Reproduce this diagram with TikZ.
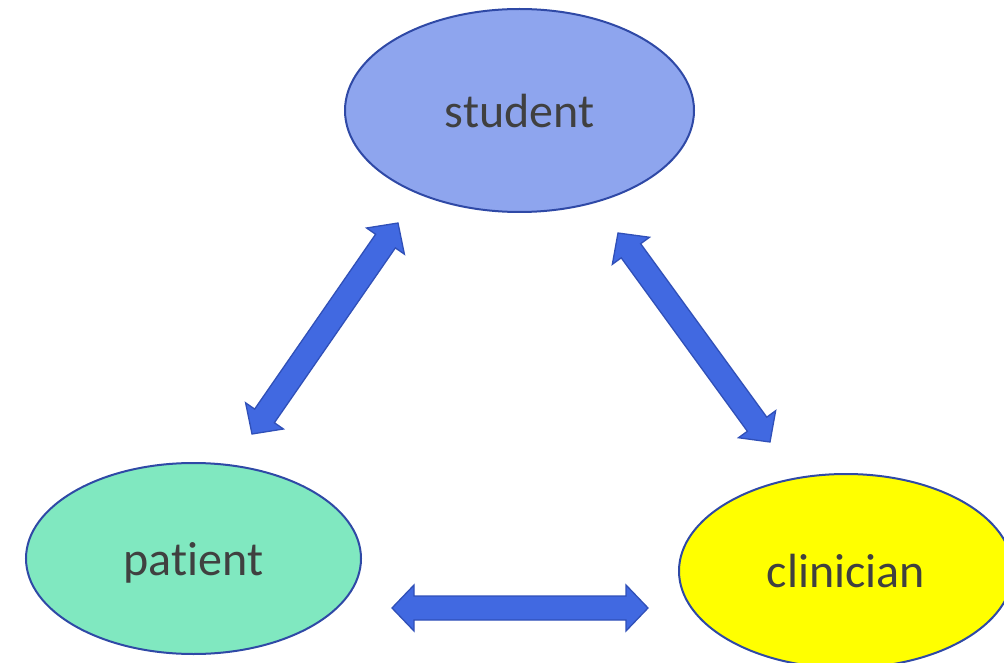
\documentclass[tikz,border=0pt]{standalone}
\usepackage{fontspec}
\setmainfont{Carlito}[Ligatures=NoCommon]
\usetikzlibrary{shapes.geometric,calc}
\definecolor{studentblue}{HTML}{8EA5EE}
\definecolor{patientgreen}{HTML}{80E8C0}
\definecolor{clinicyellow}{HTML}{FFFF00}
\definecolor{rimblue}{HTML}{2F49A6}
\definecolor{arrowblue}{HTML}{4169E1}
\definecolor{arrowrim}{HTML}{3050B8}
\definecolor{labelgray}{HTML}{404040}
\tikzset{
  party/.style={ellipse, draw=rimblue, line width=2pt, text=labelgray,
    font=\fontsize{48}{58}\selectfont, inner sep=0pt, text depth=0pt},
  linkarrow/.style={fill=arrowblue, draw=arrowrim, line width=1.3pt, line join=miter},
}
% double block arrow between two named points
\newcommand\blockarrow[2]{%
  \filldraw[linkarrow] (#1)
    -- ($(#1)!22pt!(#2)!23pt!90:(#2)$) -- ($(#1)!22pt!(#2)!12pt!90:(#2)$)
    -- ($(#2)!22pt!(#1)!12pt!-90:(#1)$) -- ($(#2)!22pt!(#1)!23pt!-90:(#1)$)
    -- (#2)
    -- ($(#2)!22pt!(#1)!23pt!90:(#1)$) -- ($(#2)!22pt!(#1)!12pt!90:(#1)$)
    -- ($(#1)!22pt!(#2)!12pt!-90:(#2)$) -- ($(#1)!22pt!(#2)!23pt!-90:(#2)$)
    -- cycle;}
\begin{document}
\begin{tikzpicture}[x=1pt, y=-1pt]
\useasboundingbox (0,0) rectangle (1004,663);
\clip (0,0) rectangle (1004,663);

\node[party, fill=studentblue, minimum width=349pt, minimum height=203pt] (student) at (519.5,110.5) {student};
\node[party, fill=patientgreen, minimum width=335pt, minimum height=191pt] (patient) at (193.5,558.5) {patient};
\node[party, fill=clinicyellow, minimum width=334pt, minimum height=194pt] (clinician) at (846,571) {clinician};

\coordinate (ps1) at (252,434);
\coordinate (ps2) at (398,223);
\coordinate (sc1) at (618,233);
\coordinate (sc2) at (770,442);
\coordinate (pc1) at (392,608);
\coordinate (pc2) at (648,608);

\foreach \a/\b in {ps1/ps2, sc1/sc2, pc1/pc2}
{
    \blockarrow{\a}{\b}
}
\end{tikzpicture}
\end{document}
